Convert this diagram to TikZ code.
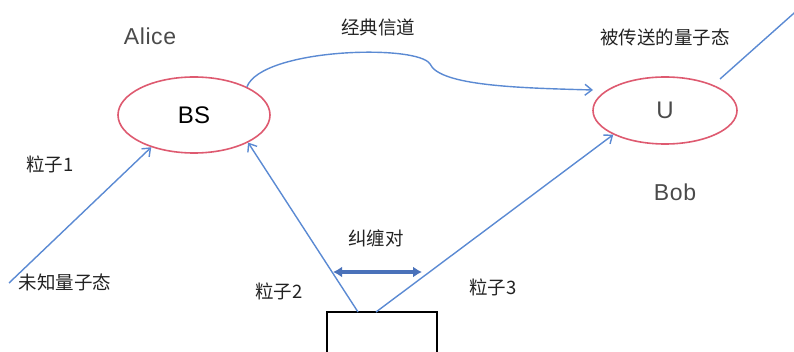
\documentclass[tikz,border=0pt]{standalone}
\usepackage{fontspec}
\setmainfont{Liberation Sans}
\newfontfamily\cjk{Noto Sans CJK SC}
\usetikzlibrary{shapes.geometric,arrows.meta}
\definecolor{lineblue}{HTML}{5B8AD3}
\definecolor{pairblue}{HTML}{4A72BA}
\definecolor{ellred}{HTML}{DE5A70}
\definecolor{txt}{HTML}{222222}
\definecolor{alicegray}{HTML}{4A4A4A}
\tikzset{
  x=1pt, y=-1pt,
  device/.style={ellipse, draw=ellred, line width=1.6pt, inner sep=0pt, font=\fontsize{24}{26}\selectfont, text=black},
  latin/.style={font=\fontsize{23}{25}\selectfont, text=alicegray},
  zh/.style={font=\cjk\fontsize{18.5}{20}\selectfont, text=txt, inner sep=0pt},
  beam/.style={draw=lineblue, line width=1.4pt},
  beamarrow/.style={beam, -{Straight Barb[length=7pt,width=11pt,line width=1.4pt]}},
}
\begin{document}
\begin{tikzpicture}
\useasboundingbox (0,0) rectangle (794,352);
\clip (0,0) rectangle (794,352);
% ellipses
\node[device, minimum width=152pt, minimum height=76pt] (bs) at (194,115) {BS};
\node[device, minimum width=144pt, minimum height=67pt, text=alicegray] (u) at (665,110.5) {U};
% box
\node[draw=black, line width=1.4pt, minimum width=110pt, minimum height=50pt, inner sep=0pt] (box) at (382,337) {};
\coordinate (b2) at (358,312);
\coordinate (b3) at (376,312);
\coordinate (p1) at (9,283);
\coordinate (uout) at (720,79);
\coordinate (uend) at (802,6);
\coordinate (ua) at (593,90);
% labels
\node[latin] (alice) at (150,36) {A\kern0.6pt l\kern0.6pt i\kern0.6pt c\kern0.6pt e};
\node[latin] (bob) at (675,192) {B\kern0.6pt o\kern0.6pt b};
\node[zh] (chan) at (378,27) {经典信道};
\node[zh] (sent) at (665,37) {被传送的量子态};
\node[zh] (l1) at (50,164) {粒子1};
\node[zh] (unk) at (65,282) {未知量子态};
\node[zh] (l2) at (279,291) {粒子2};
\node[zh] (pair) at (376,238) {纠缠对};
\node[zh] (l3) at (493,287) {粒子3};
% classical channel
\draw[beamarrow] (bs.28) .. controls (262,48) and (418,44) .. (430,64)
  .. controls (440,86) and (520,88) .. (ua);
% particles
\draw[beamarrow] (p1) -- (bs.217);
\draw[beamarrow] (b2) -- (bs.-27);
\draw[beamarrow] (b3) -- (u.205);
\draw[beam] (uout) -- (uend);
% entangled pair arrow
\coordinate (ea) at (333,272);
\coordinate (eb) at (422,272);
\draw[draw=pairblue, line width=3.5pt, {Latex[length=9pt,width=11pt]}-{Latex[length=9pt,width=11pt]}] (ea) -- (eb);
\end{tikzpicture}
\end{document}
